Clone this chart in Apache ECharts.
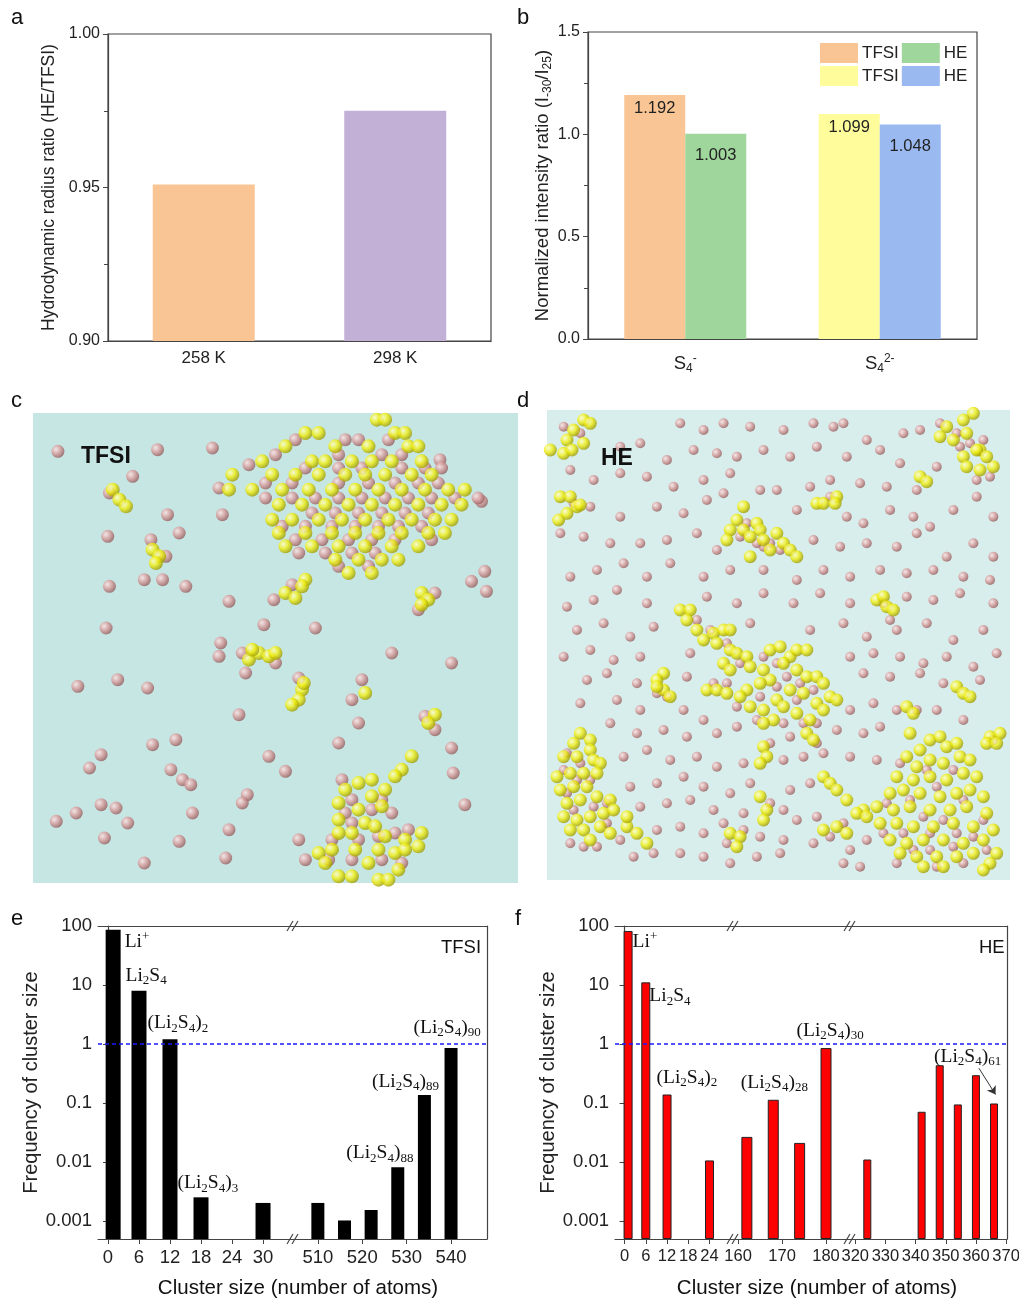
<!DOCTYPE html>
<html>
<head>
<meta charset="utf-8">
<script src="https://cdn.jsdelivr.net/npm/echarts@6/dist/echarts.min.js"></script>
<style>
html, body { margin: 0; padding: 0; background: #fff; }
#main { width: 1019px; height: 1298px; }
</style>
</head>
<body>
<div id="main"></div>
<script>
// ---- data ----
// a: hydrodynamic radius ratio
const tempLabels = ['258 K', '298 K'];
const radiusRatio = [0.951, 0.975];

// b: normalized intensity ratio
const ionLabels = ['S4-', 'S42-'];
const ratioTfsi = [1.192, 1.099];
const ratioHe = [1.003, 1.048];

// e: TFSI cluster size distribution (two axis segments)
const eSizeA = [1, 6, 12, 18, 30];
const eFreqA = [86.7, 8.0, 1.21, 0.00254, 0.00204];
const eSizeB = [510, 516, 522, 528, 534, 540];
const eFreqB = [0.00204, 0.00103, 0.00155, 0.00823, 0.138, 0.856];
const eTicksA = [0, 6, 12, 18, 24, 30];
const eTicksB = [510, 520, 530, 540];

// f: HE cluster size distribution (three axis segments)
const fSizeA = [1, 6, 12, 24];
const fFreqA = [82.4, 11.1, 0.14, 0.0107];
const fSizeB = [162, 168, 174, 180];
const fFreqB = [0.0268, 0.114, 0.0212, 0.856];
const fSizeC = [324, 342, 348, 354, 360, 366];
const fFreqC = [0.0111, 0.0714, 0.438, 0.095, 0.297, 0.0986];
const fTicksA = [0, 6, 12, 18, 24];
const fTicksB = [160, 170, 180];
const fTicksC = [320, 330, 340, 350, 360, 370];

// c: sphere positions in the TFSI snapshot (picture units)
const tfsiYellowRows = [
	[90, [1075, 1100]],
	[130, [860, 900, 1130, 1160]],
	[170, [800, 950, 1050, 1170, 1200]],
	[215, [730, 880, 920, 1000, 1060, 1120, 1210]],
	[255, [640, 760, 830, 900, 980, 1040, 1100, 1180, 1240]],
	[300, [630, 700, 790, 870, 940, 1010, 1080, 1150, 1220, 1290, 1340]],
	[345, [780, 850, 920, 990, 1060, 1130, 1200, 1270, 1330]],
	[390, [760, 820, 900, 970, 1040, 1110, 1180, 1250, 1300]],
	[430, [780, 860, 940, 1010, 1080, 1150, 1230, 1280]],
	[470, [800, 880, 960, 1040, 1120, 1200]],
	[510, [950, 1020, 1090, 1140]],
	[550, [990, 1060]]
];
const tfsiYellowMore = [
	[280, 300], [300, 330], [320, 350], [400, 480], [420, 500], [410, 520],
	[800, 610], [830, 625], [860, 570], [850, 590], [1210, 610], [1230, 630], [1210, 645],
	[690, 810], [720, 790], [750, 800], [770, 790], [700, 780],
	[850, 900], [840, 930], [820, 945], [855, 880], [1040, 910], [1250, 975], [1230, 1000],
	[1180, 1100], [1150, 1140], [1130, 1160], [1060, 1170], [1020, 1180], [980, 1200], [1100, 1200],
	[1060, 1220], [960, 1240], [1020, 1260], [1090, 1250], [960, 1290], [1040, 1300], [1070, 1310],
	[1000, 1330], [960, 1330], [1100, 1340], [1160, 1350], [1200, 1370], [1210, 1330], [900, 1390],
	[940, 1380], [1010, 1380], [1080, 1380], [1130, 1390], [1160, 1380], [920, 1420], [960, 1460],
	[1000, 1460], [1080, 1470], [1110, 1470], [1140, 1440], [1050, 1420]
];
const tfsiPinkRows = [
	[150, [830, 980, 1020, 1110]],
	[195, [770, 960, 1090, 1150]],
	[235, [860, 960, 1030, 1150, 1220, 1270]],
	[280, [740, 820, 960, 1050, 1130, 1200, 1260]],
	[325, [740, 820, 890, 960, 1030, 1100, 1170, 1240, 1310, 1380]],
	[370, [880, 950, 1020, 1090, 1160, 1230]],
	[410, [790, 860, 940, 1010, 1080, 1140, 1210]],
	[450, [830, 910, 990, 1060, 1130, 1240]],
	[490, [840, 920, 1000, 1070]],
	[530, [960, 1050]]
];
const tfsiPinkMore = [
	[270, 310], [440, 500], [430, 570], [820, 585], [1250, 610], [1200, 660], [670, 790], [770, 820],
	[680, 850], [840, 865], [1030, 870], [1220, 980], [1250, 1020],
	[970, 1170], [1090, 1230], [1000, 1230], [980, 1270], [1060, 1260], [1120, 1270], [1000, 1300],
	[1080, 1340], [1130, 1330], [940, 1350], [1020, 1350], [1170, 1320], [930, 1410], [1000, 1410],
	[1090, 1410], [1150, 1420], [860, 1410],
	[115, 185], [415, 180], [580, 175], [340, 260], [600, 295], [445, 375], [610, 375], [265, 440],
	[480, 430], [395, 450], [690, 225], [1265, 210], [1390, 335], [1400, 545], [1360, 575], [1405, 605],
	[270, 590], [375, 570], [500, 590], [630, 635], [765, 630], [890, 715], [735, 705], [260, 715],
	[605, 760], [600, 800], [1120, 790], [1300, 820], [295, 870], [175, 890], [385, 895], [660, 975],
	[1020, 1000], [1000, 930], [960, 1060], [245, 1095], [400, 1065], [470, 1050], [490, 1170],
	[515, 1185], [455, 1140], [210, 1135], [750, 1100], [800, 1145], [1300, 1075], [1305, 1150],
	[685, 1215], [245, 1245], [290, 1255], [170, 1270], [110, 1295], [325, 1300], [255, 1345],
	[480, 1355], [630, 1320], [620, 1405], [375, 1420], [840, 1350], [1340, 1245], [670, 1240], [520, 1270]
];

// d: sphere positions in the HE snapshot (picture units)
const heYellow = [
	[160, 90], [180, 100], [130, 120], [110, 150], [60, 180], [100, 190], [125, 180], [160, 160],
	[90, 320], [120, 320], [85, 390], [110, 370], [140, 350], [150, 345],
	[1330, 70], [1300, 90], [1250, 110], [1270, 150], [1230, 140], [1310, 130], [1350, 180], [1300, 200],
	[1390, 230], [1350, 240], [1310, 230], [1340, 180], [1370, 200], [1170, 260], [1190, 275],
	[860, 340], [880, 340], [920, 320], [915, 340],
	[640, 350], [620, 390], [600, 420], [590, 450], [640, 420], [680, 400], [690, 420], [660, 440],
	[700, 450], [740, 430], [760, 460], [780, 480], [800, 500], [720, 480], [660, 500],
	[1040, 630], [1060, 620], [1070, 650], [1090, 660],
	[450, 660], [480, 660], [470, 690], [500, 720], [520, 750], [550, 730], [580, 720], [600, 720],
	[560, 760], [600, 780], [620, 790], [580, 820], [650, 800], [600, 840], [660, 830], [700, 840],
	[720, 780], [750, 770], [780, 800], [800, 780], [830, 780], [760, 820], [800, 840], [830, 860],
	[860, 860], [880, 880], [720, 870], [690, 880], [650, 900], [630, 920], [660, 950], [700, 960],
	[740, 930], [780, 900], [820, 910], [860, 940], [900, 920], [920, 930], [880, 960], [840, 990],
	[830, 1030], [850, 1050], [760, 950], [730, 990], [700, 1000], [800, 970], [530, 900], [560, 900],
	[590, 910], [400, 850], [380, 870], [400, 900], [420, 920], [380, 890],
	[1130, 950], [1150, 970], [1280, 890], [1300, 910], [1320, 920],
	[1380, 1040], [1410, 1030], [1370, 1060], [1400, 1060], [700, 1070], [710, 1100], [690, 1120],
	[690, 1220], [710, 1260], [700, 1290], [600, 1330], [630, 1340], [620, 1370],
	[150, 1030], [180, 1050], [130, 1060], [180, 1080], [100, 1100], [140, 1100], [190, 1110], [210, 1120],
	[80, 1160], [120, 1150], [160, 1150], [200, 1150], [90, 1200], [130, 1190], [170, 1190], [110, 1240],
	[150, 1230], [200, 1220], [240, 1230], [100, 1280], [140, 1290], [180, 1280], [220, 1270], [250, 1260],
	[120, 1320], [160, 1320], [210, 1310], [180, 1350], [240, 1330], [290, 1310], [320, 1330], [350, 1360], [290, 1280],
	[1140, 1030], [1170, 1080], [1200, 1050], [1230, 1040], [1250, 1070], [1280, 1060], [1130, 1100], [1160, 1130],
	[1200, 1110], [1240, 1120], [1290, 1100], [1320, 1110], [1100, 1160], [1150, 1170], [1200, 1160], [1250, 1170],
	[1300, 1150], [1340, 1160], [1080, 1210], [1120, 1200], [1170, 1210], [1230, 1220], [1280, 1210], [1320, 1200],
	[1360, 1220], [1000, 1260], [1040, 1250], [1090, 1260], [1140, 1250], [1200, 1260], [1260, 1260], [1310, 1250],
	[1370, 1270], [1050, 1300], [1100, 1300], [1150, 1310], [1210, 1310], [1270, 1300], [1330, 1310], [1390, 1320],
	[1080, 1350], [1130, 1360], [1180, 1350], [1240, 1350], [1300, 1360], [1360, 1350], [1400, 1390], [1110, 1390],
	[1160, 1400], [1220, 1400], [1280, 1400], [1330, 1390], [1380, 1420], [1180, 1430], [1240, 1430], [1360, 1440],
	[880, 1160], [900, 1180], [920, 1200], [950, 1230], [980, 1270], [1010, 1280], [880, 1320], [920, 1310], [950, 1330]
];
const hePink = [
	[100, 110], [150, 130], [130, 340], [90, 430], [1280, 130], [1320, 160], [1360, 150], [1290, 170],
	[1380, 260], [1340, 270], [1160, 300], [900, 320], [650, 400], [630, 440], [700, 470], [750, 480],
	[680, 460], [720, 460], [1060, 640], [1080, 690],
	[500, 690], [540, 720], [590, 760], [630, 820], [700, 800], [740, 820], [770, 860], [810, 880],
	[850, 900], [690, 920], [740, 890], [800, 930], [860, 1000], [820, 1000], [760, 1000], [680, 990],
	[620, 950], [550, 880], [590, 880], [410, 920], [380, 910], [860, 1060], [1160, 960], [1390, 1050],
	[720, 1060], [720, 1240], [640, 1320], [590, 1360],
	[110, 1090], [150, 1120], [100, 1140], [140, 1170], [180, 1170], [110, 1210], [190, 1250], [130, 1260],
	[230, 1300], [160, 1370], [200, 1370], [270, 1350], [310, 1400], [370, 1390], [120, 1360], [230, 1240],
	[1110, 1120], [1190, 1140], [1270, 1140], [1220, 1190], [1140, 1230], [1300, 1230], [1070, 1240], [1180, 1280],
	[1240, 1290], [1360, 1290], [1120, 1330], [1200, 1330], [1280, 1330], [1060, 1330], [1330, 1340], [1150, 1380],
	[1270, 1370], [1370, 1380], [1200, 1380], [1100, 1420], [1300, 1420], [900, 1340], [940, 1300], [1220, 1430],
	[450, 100], [520, 120], [580, 100], [660, 110], [760, 120], [850, 100], [910, 110], [940, 100], [1010, 150],
	[1120, 130], [1170, 120], [1230, 100], [270, 170], [330, 160], [410, 210], [490, 180], [560, 190], [620, 200],
	[700, 180], [780, 200], [860, 170], [950, 200], [1050, 180], [1110, 220], [120, 240], [190, 270], [270, 250],
	[350, 260], [430, 290], [520, 270], [600, 250], [690, 300], [740, 300], [840, 290], [900, 270], [990, 280],
	[1070, 290], [1220, 230], [180, 350], [270, 380], [380, 350], [460, 370], [530, 330], [580, 310], [800, 360],
	[950, 380], [1000, 400], [1080, 360], [1150, 380], [1200, 410], [1270, 360], [1340, 320], [1390, 380],
	[160, 440], [240, 460], [330, 460], [410, 450], [500, 430], [560, 480], [850, 450], [930, 470], [1010, 460],
	[1100, 470], [1160, 430], [1250, 500], [1330, 460], [1390, 500], [120, 560], [200, 540], [280, 520],
	[350, 560], [420, 520], [520, 560], [600, 540], [700, 540], [800, 570], [880, 540], [960, 560], [1050, 540],
	[1130, 550], [1210, 540], [1300, 560], [1380, 570], [110, 650], [190, 630], [260, 600], [350, 640],
	[530, 620], [620, 640], [700, 610], [790, 640], [870, 610], [960, 640], [1130, 620], [1210, 630], [1290, 610],
	[1390, 640], [140, 720], [220, 700], [300, 740], [370, 710], [660, 700], [840, 720], [940, 700], [1010, 740],
	[1100, 720], [1190, 700], [1270, 750], [1360, 720], [100, 800], [180, 780], [250, 810], [330, 800],
	[480, 790], [960, 800], [1030, 790], [1110, 800], [1180, 820], [1250, 800], [1330, 830], [1400, 790],
	[170, 870], [230, 850], [320, 880], [470, 860], [1000, 850], [1080, 860], [1170, 850], [1240, 880],
	[1350, 870], [150, 940], [260, 930], [330, 960], [460, 960], [520, 990], [960, 960], [1030, 940],
	[1100, 960], [1220, 960], [1300, 990], [240, 1000], [320, 1030], [400, 1020], [470, 1040], [560, 1030],
	[620, 1010], [780, 1040], [920, 1020], [1000, 1030], [1050, 1010], [280, 1100], [350, 1080], [420, 1110],
	[500, 1100], [560, 1130], [640, 1120], [760, 1110], [820, 1100], [880, 1090], [960, 1100], [1040, 1110],
	[300, 1190], [380, 1180], [460, 1160], [520, 1190], [600, 1210], [660, 1180], [780, 1200], [840, 1180],
	[330, 1250], [410, 1240], [480, 1230], [550, 1260], [640, 1270], [760, 1260], [800, 1290], [860, 1280],
	[380, 1320], [450, 1310], [520, 1330], [580, 1300], [690, 1340], [760, 1350], [850, 1360], [960, 1380],
	[1010, 1350], [450, 1390], [520, 1400], [600, 1420], [680, 1400], [750, 1390], [940, 1420], [990, 1430]
];

// ---- helpers ----
const SANS = 'Liberation Sans';
const SERIF = 'Liberation Serif';
const INK = '#222';

function flatRows(rows) {
	let out = [];
	rows.forEach(r => r[1].forEach(x => out.push([x, r[0]])));
	return out;
}
function logLabel(v) {
	const p = Math.round(Math.log10(v));
	if (Math.abs(Math.log10(v) - p) > 0.01) return '';
	return String(Number(Math.pow(10, p).toFixed(Math.max(0, -p))));
}
// rich text for the cluster annotations
const chemRich = {
	t: { fontFamily: SERIF, fontSize: 19.5, color: '#111' },
	s: { fontFamily: SERIF, fontSize: 13, color: '#111', padding: [10, 0, 0, 0] },
	p: { fontFamily: SERIF, fontSize: 13, color: '#111', padding: [0, 0, 10, 0] }
};
function liNote() { return '{t|Li}{p|+}'; }
function li2s4() { return '{t|Li}{s|2}{t|S}{s|4}'; }
function li2s4n(n) { return '{t|(Li}{s|2}{t|S}{s|4}{t|)}{s|' + n + '}'; }

function ball(c0, c1, c2) {
	return {
		type: 'radial', x: 0.35, y: 0.35, r: 0.75,
		colorStops: [{ offset: 0, color: c0 }, { offset: 0.45, color: c1 }, { offset: 1, color: c2 }]
	};
}
const yellowBall = ball('#ffffd0', '#f0ee10', '#8c8a00');
const pinkBall = ball('#fbe6e6', '#d89c9c', '#85504f');

// bar with an optional annotation attached to it
function annotated(xs, ys, notes) {
	return xs.map((x, i) => {
		const item = { value: [x, ys[i]] };
		const n = notes[i];
		if (n) {
			item.label = {
				show: true, position: [n[1], n[2]], align: 'left', verticalAlign: 'middle',
				formatter: n[0], rich: chemRich
			};
		}
		return item;
	});
}
const eNotesA = [[liNote(), 19, 12], [li2s4(), -6, -15], [li2s4n(2), -15, -16], [li2s4n(3), -16, -14], null];
const eNotesB = [null, null, null, [li2s4n(88), -45, -14], [li2s4n(89), -46, -13], [li2s4n(90), -31, -20]];
const fNotesA = [[liNote(), 9, 11], [li2s4(), 8, 14], [li2s4n(2), -6, -17], null];
const fNotesB = [null, [li2s4n(28), -27, -17], null, [li2s4n(30), -24, -17]];
const fNotesC = [null, null, null, null, null, [li2s4n(61), -56, -47]];

const oneLine = {
	silent: true, symbol: 'none',
	label: { show: false },
	lineStyle: { color: '#1a1aff', type: [4, 3], width: 1.5 },
	data: [{ yAxis: 1 }]
};

let myChart = echarts.init(document.getElementById('main'), null, { renderer: 'canvas' });

const axisLine = { show: true, lineStyle: { color: '#444', width: 1.2 } };
const tickLbl = { color: INK, fontFamily: SANS, fontSize: 16 };
const bigLbl = { color: INK, fontFamily: SANS, fontSize: 18.5 };

function grid(left, top, width, height, extra) {
	return Object.assign({ left: left, top: top, width: width, height: height, outerBoundsMode: 'none' }, extra || {});
}
// bottom x axis of a broken-axis segment
function segX(gi, min, max, ticks, size) {
	return {
		type: 'value', gridIndex: gi, min: min, max: max, position: 'bottom',
		axisLine: axisLine, splitLine: { show: false },
		axisTick: { show: true, customValues: ticks, length: 5, lineStyle: { color: '#444' } },
		axisLabel: Object.assign({ customValues: ticks, margin: 9, hideOverlap: false, showMinLabel: true, showMaxLabel: true },
			bigLbl, { fontSize: size })
	};
}
function segTop(gi, min, max) {
	return {
		type: 'value', gridIndex: gi, min: min, max: max, position: 'top',
		axisLine: axisLine, axisTick: { show: false }, axisLabel: { show: false }, splitLine: { show: false }
	};
}
function logY(gi, pos, labels, name) {
	const ax = {
		type: 'log', gridIndex: gi, min: 0.0005, max: 100, startValue: 0.0005, position: pos,
		logBase: 10, splitLine: { show: false },
		axisLine: axisLine,
		axisTick: { show: labels, length: 5, lineStyle: { color: '#444' } },
		axisLabel: labels ? Object.assign({ formatter: logLabel, margin: 6 }, bigLbl) : { show: false }
	};
	if (name) {
		ax.name = name;
		ax.nameLocation = 'middle';
		ax.nameGap = 55;
		ax.nameTextStyle = { color: INK, fontFamily: SANS, fontSize: 20 };
	}
	return ax;
}
function clusterBars(xi, yi, xs, ys, notes, style, width, extraLines) {
	const ml = JSON.parse(JSON.stringify(oneLine));
	if (extraLines) ml.data = ml.data.concat(extraLines);
	return {
		type: 'bar', xAxisIndex: xi, yAxisIndex: yi, barWidth: width,
		itemStyle: style, data: annotated(xs, ys, notes), markLine: ml, z: 3
	};
}

// break marks "//" on top and bottom of the broken axes
function breakMark(x, y) {
	return [
		{ type: 'line', shape: { x1: x - 6, y1: y + 5, x2: x, y2: y - 5 }, style: { stroke: '#444', lineWidth: 1.2 }, z: 10 },
		{ type: 'line', shape: { x1: x - 1, y1: y + 5, x2: x + 5, y2: y - 5 }, style: { stroke: '#444', lineWidth: 1.2 }, z: 10 }
	];
}
let marks = [];
[293, 733, 850].forEach(x => {
	marks = marks.concat(breakMark(x, 926), breakMark(x, 1239));
});

function titleText(text, left, top, size, weight, align) {
	return {
		text: text, left: left, top: top, textAlign: align || 'left',
		textStyle: { fontFamily: SANS, fontSize: size, fontWeight: weight || 'normal', color: '#111' }
	};
}

const stdRich = {
	m: { fontFamily: SANS, fontSize: 18.5, color: INK },
	s: { fontFamily: SANS, fontSize: 12, color: INK, padding: [10, 0, 0, 0] },
	p: { fontFamily: SANS, fontSize: 12, color: INK, padding: [0, 0, 10, 0] }
};
const valLabel = { show: true, position: 'insideTop', color: INK, fontFamily: SANS, fontSize: 16.5, formatter: p => p.value.toFixed(3) };

myChart.setOption({
	animation: false,
	backgroundColor: '#fff',
	title: [
		titleText('a', 6, 2, 22), titleText('b', 512, 2, 22),
		titleText('c', 6, 385, 22), titleText('d', 512, 385, 22),
		titleText('e', 6, 903, 22), titleText('f', 510, 903, 22),
		titleText('TFSI', 76, 440, 23, 'bold'), titleText('HE', 596, 442, 23, 'bold'),
		titleText('TFSI', 436, 933, 18.5), titleText('HE', 974, 933, 18.5),
		titleText('Cluster size (number of atoms)', 293, 1273, 20.5, 'normal', 'center'),
		titleText('Cluster size (number of atoms)', 812, 1273, 20.5, 'normal', 'center')
	],
	legend: {
		left: 815, top: 38, width: 165, itemWidth: 38, itemHeight: 20, itemGap: 3,
		icon: 'rect', selectedMode: false,
		data: ['TFSI S4-', 'HE S4-', 'TFSI S42-', 'HE S42-'],
		formatter: n => n.split(' ')[0],
		textStyle: { fontFamily: SANS, fontSize: 17, color: INK, padding: [0, 0, 0, -1] }
	},
	grid: [
		grid(108, 34, 383, 307, { show: true, borderColor: '#444', borderWidth: 1.2 }),
		grid(588, 32, 389, 307, { show: true, borderColor: '#444', borderWidth: 1.2 }),
		grid(33, 413, 485, 470, { show: true, borderWidth: 0, backgroundColor: '#c6e6e4' }),
		grid(547, 410, 463, 470, { show: true, borderWidth: 0, backgroundColor: '#d8eeed' }),
		grid(98, 926, 195, 313),
		grid(293, 926, 194, 313),
		grid(615, 926, 120, 313),
		grid(735, 926, 113, 313),
		grid(848, 926, 159, 313)
	],
	xAxis: [
		{
			type: 'category', gridIndex: 0, data: tempLabels,
			axisLine: axisLine, axisTick: { show: false },
			axisLabel: Object.assign({ margin: 9 }, tickLbl, { fontSize: 17 })
		},
		{
			type: 'category', gridIndex: 1, data: ionLabels,
			axisLine: axisLine, axisTick: { show: false },
			axisLabel: {
				margin: 14,
				formatter: v => v === 'S4-' ? '{m|S}{s|4}{p|-}' : '{m|S}{s|4}{p|2-}',
				rich: stdRich
			}
		},
		{ type: 'value', gridIndex: 2, min: 40, max: 1500, show: false },
		{ type: 'value', gridIndex: 3, min: 50, max: 1440, show: false },
		segX(4, -1.93, 35.8, eTicksA, 18.5), segTop(4, -1.93, 35.8),
		segX(5, 504.4, 548.1, eTicksB, 18.5), segTop(5, 504.4, 548.1),
		segX(6, -2.7, 31.2, fTicksA, 16.5), segTop(6, -2.7, 31.2),
		segX(7, 159.3, 185, fTicksB, 16.5), segTop(7, 159.3, 185),
		segX(8, 317.6, 370.3, fTicksC, 16.5), segTop(8, 317.6, 370.3)
	],
	yAxis: [
		{
			type: 'value', gridIndex: 0, min: 0.9, max: 1.0, interval: 0.05,
			name: 'Hydrodynamic radius ratio (HE/TFSI)', nameLocation: 'middle', nameGap: 50,
			nameTextStyle: { color: INK, fontFamily: SANS, fontSize: 17.5 },
			axisLine: axisLine, splitLine: { show: false },
			axisTick: { show: true, length: 5, lineStyle: { color: '#444' } },
			minorTick: { show: true, splitNumber: 2, length: 4, lineStyle: { color: '#444' } },
			axisLabel: Object.assign({ formatter: v => v.toFixed(2), margin: 8 }, tickLbl)
		},
		{
			type: 'value', gridIndex: 1, min: 0, max: 1.5, interval: 0.5,
			name: '{m|Normalized intensity ratio (I}{s|-30}{m|/I}{s|25}{m|)}', nameLocation: 'middle', nameGap: 34,
			nameTextStyle: { rich: stdRich },
			axisLine: axisLine, splitLine: { show: false },
			axisTick: { show: true, length: 5, lineStyle: { color: '#444' } },
			minorTick: { show: true, splitNumber: 2, length: 4, lineStyle: { color: '#444' } },
			axisLabel: Object.assign({ formatter: v => v.toFixed(1), margin: 8 }, tickLbl)
		},
		{ type: 'value', gridIndex: 2, min: 70, max: 1480, inverse: true, show: false },
		{ type: 'value', gridIndex: 3, min: 60, max: 1470, inverse: true, show: false },
		logY(4, 'left', true, 'Frequency of cluster size'),
		logY(5, 'right', false),
		logY(6, 'left', true, 'Frequency of cluster size'),
		Object.assign(logY(7, 'left', false), { axisLine: { show: false } }),
		logY(8, 'right', false)
	],
	series: [
		// a
		{
			type: 'bar', xAxisIndex: 0, yAxisIndex: 0, barWidth: 102,
			data: radiusRatio.map((v, i) => ({ value: v, itemStyle: { color: ['#f9c594', '#c2b0d6'][i] } }))
		},
		// b: stacked so each category keeps two adjacent bars
		{
			name: 'TFSI S4-', type: 'bar', stack: 'tfsi', xAxisIndex: 1, yAxisIndex: 1, barWidth: 61, barGap: '0%',
			itemStyle: { color: '#f9c594' }, data: [ratioTfsi[0], '-'],
			label: Object.assign({ distance: 5 }, valLabel)
		},
		{
			name: 'TFSI S42-', type: 'bar', stack: 'tfsi', xAxisIndex: 1, yAxisIndex: 1, barWidth: 61, barGap: '0%',
			itemStyle: { color: '#fffd9b' }, data: ['-', ratioTfsi[1]],
			label: Object.assign({ distance: 5 }, valLabel)
		},
		{
			name: 'HE S4-', type: 'bar', stack: 'he', xAxisIndex: 1, yAxisIndex: 1, barWidth: 61, barGap: '0%',
			itemStyle: { color: '#9fd69b' }, data: [ratioHe[0], '-'],
			label: Object.assign({ distance: 13 }, valLabel)
		},
		{
			name: 'HE S42-', type: 'bar', stack: 'he', xAxisIndex: 1, yAxisIndex: 1, barWidth: 61, barGap: '0%',
			itemStyle: { color: '#9bb9f1' }, data: ['-', ratioHe[1]],
			label: Object.assign({ distance: 13 }, valLabel)
		},
		// c
		{ type: 'scatter', xAxisIndex: 2, yAxisIndex: 2, symbolSize: 13, itemStyle: { color: pinkBall }, data: tfsiPinkMore.concat(flatRows(tfsiPinkRows)), silent: true },
		{ type: 'scatter', xAxisIndex: 2, yAxisIndex: 2, symbolSize: 14, itemStyle: { color: yellowBall }, data: flatRows(tfsiYellowRows).concat(tfsiYellowMore), silent: true },
		// d
		{ type: 'scatter', xAxisIndex: 3, yAxisIndex: 3, symbolSize: 10, itemStyle: { color: pinkBall }, data: hePink, silent: true },
		{ type: 'scatter', xAxisIndex: 3, yAxisIndex: 3, symbolSize: 13, itemStyle: { color: yellowBall }, data: heYellow, silent: true },
		// e
		clusterBars(4, 4, eSizeA, eFreqA, eNotesA, { color: '#000' }, 15),
		clusterBars(6, 5, eSizeB, eFreqB, eNotesB, { color: '#000' }, 13),
		// f
		clusterBars(8, 6, fSizeA, fFreqA, fNotesA, { color: '#ff0000', borderColor: '#222', borderWidth: 1 }, 9),
		clusterBars(10, 7, fSizeB, fFreqB, fNotesB, { color: '#ff0000', borderColor: '#222', borderWidth: 1 }, 11),
		clusterBars(12, 8, fSizeC, fFreqC, fNotesC, { color: '#ff0000', borderColor: '#222', borderWidth: 1 }, 8, [
			[
				{ coord: [361, 0.39], symbol: 'none', lineStyle: { color: '#333', type: 'solid', width: 1 } },
				{ coord: [366.5, 0.14], symbol: 'arrow', symbolSize: 8 }
			]
		])
	],
	graphic: marks
});
</script>
</body>
</html>
